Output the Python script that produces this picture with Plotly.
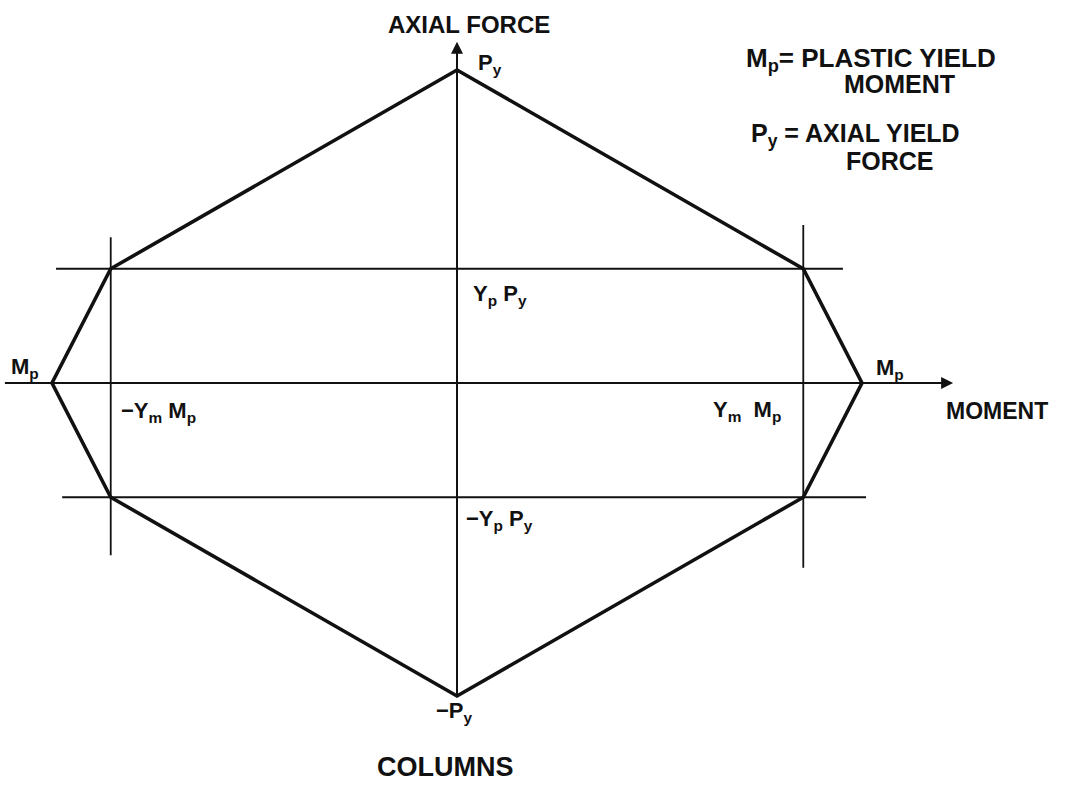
import plotly.graph_objects as go

# Interaction diagram parameters (normalized: Mp = 1, Py = 1)
Mp = 1.0
Py = 1.0
Ym = 0.855
Yp = 0.365

# hexagon vertices (moment, axial force)
hex_m = [0, Ym, Mp, Ym, 0, -Ym, -Mp, -Ym, 0]
hex_p = [Py, Yp, 0, -Yp, -Py, -Yp, 0, Yp, Py]

# guide line extents
top_line_x = [-0.99, 0.953]
bot_line_x = [-0.975, 1.01]
left_vert_y = [0.466, -0.55]
right_vert_y = [0.505, -0.59]
moment_axis_x = [-1.12, 1.225]
axial_axis_y = [-1.0, 1.09]

FONT = "Liberation Sans"
BLACK = "#111111"
W, H = 1065, 787

fig = go.Figure()

fig.add_trace(go.Scatter(x=hex_m, y=hex_p, mode="lines",
                         line=dict(color=BLACK, width=3.6), hoverinfo="skip"))
thin = dict(color=BLACK, width=1.8)
fig.add_trace(go.Scatter(x=top_line_x, y=[Yp, Yp], mode="lines", line=thin, hoverinfo="skip"))
fig.add_trace(go.Scatter(x=bot_line_x, y=[-Yp, -Yp], mode="lines", line=thin, hoverinfo="skip"))
fig.add_trace(go.Scatter(x=[-Ym, -Ym], y=left_vert_y, mode="lines", line=thin, hoverinfo="skip"))
fig.add_trace(go.Scatter(x=[Ym, Ym], y=right_vert_y, mode="lines", line=thin, hoverinfo="skip"))

# axes with arrowheads
fig.add_annotation(x=moment_axis_x[1], y=0, ax=moment_axis_x[0], ay=0,
                   xref="x", yref="y", axref="x", ayref="y", text="",
                   showarrow=True, arrowhead=2, arrowsize=1.2, arrowwidth=2.0, arrowcolor=BLACK)
fig.add_annotation(x=0, y=axial_axis_y[1], ax=0, ay=axial_axis_y[0],
                   xref="x", yref="y", axref="x", ayref="y", text="",
                   showarrow=True, arrowhead=2, arrowsize=1.2, arrowwidth=2.0, arrowcolor=BLACK)


def text_at(px, py, text, size=22, xanchor="left"):
    """Place a text with its left (or center) edge at pixel px and middle at pixel py."""
    fig.add_annotation(x=px / W, y=1 - py / H, xref="paper", yref="paper", text=text,
                       showarrow=False, xanchor=xanchor, yanchor="middle",
                       font=dict(family=FONT, size=size, color=BLACK, weight="bold"))


text_at(469, 24, "AXIAL FORCE", size=24, xanchor="center")
text_at(476, 64, "P<sub>y</sub>")
text_at(434, 712, "\u2212P<sub>y</sub>")
text_at(445, 767, "COLUMNS", size=27, xanchor="center")
text_at(471, 295, "Y<sub>p</sub> P<sub>y</sub>")
text_at(464, 520, "\u2212Y<sub>p</sub> P<sub>y</sub>")
text_at(9, 368, "M<sub>p</sub>")
text_at(874, 369, "M<sub>p</sub>")
text_at(119, 412, "\u2212Y<sub>m</sub> M<sub>p</sub>")
text_at(711, 411, "Y<sub>m</sub>  M<sub>p</sub>")
text_at(944, 411, "MOMENT", size=23)

# definitions
text_at(744, 59, "M<sub>p</sub>= PLASTIC YIELD", size=26)
text_at(842, 84, "MOMENT", size=25)
text_at(749, 135, "P<sub>y</sub> = AXIAL YIELD", size=25)
text_at(844, 161, "FORCE", size=25)

fig.update_layout(
    width=W, height=H,
    margin=dict(l=0, r=0, t=0, b=0),
    paper_bgcolor="white", plot_bgcolor="white",
    showlegend=False,
    xaxis=dict(range=[-457 / 405, (W - 457) / 405], visible=False, fixedrange=True),
    yaxis=dict(range=[-404 / 313, 383 / 313], visible=False, fixedrange=True),
)

fig.write_html("out.html", config={"displayModeBar": False},
               post_script="document.body.style.margin='0px';document.body.style.padding='0px';")
